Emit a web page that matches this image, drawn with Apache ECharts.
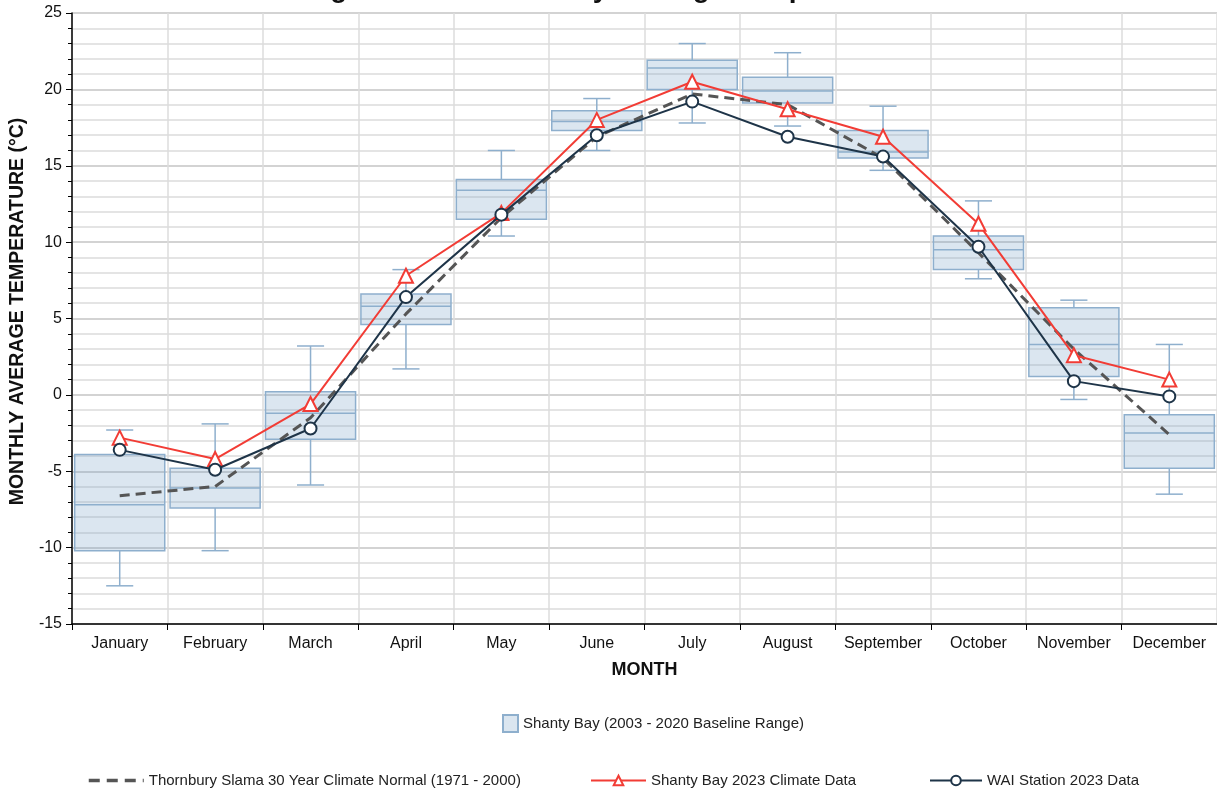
<!DOCTYPE html>
<html>
<head>
<meta charset="utf-8">
<script src="https://cdn.jsdelivr.net/npm/echarts@6/dist/echarts.min.js"></script>
<style>
  html, body { margin: 0; padding: 0; background: #fff; }
  #main { width: 1217px; height: 791px; }
</style>
</head>
<body>
<div id="main"></div>
<script>
// months
var months = ['January', 'February', 'March', 'April', 'May', 'June',
  'July', 'August', 'September', 'October', 'November', 'December'];

// Shanty Bay 2003 - 2020 baseline range (whisker low, Q1, median, Q3, whisker high)
var baseMin = [-12.5, -10.2, -5.9, 1.7, 10.4, 16.0, 17.8, 17.6, 14.7, 7.6, -0.3, -6.5];
var baseQ1 = [-10.2, -7.4, -2.9, 4.6, 11.5, 17.3, 20.0, 19.1, 15.5, 8.2, 1.2, -4.8];
var baseMedian = [-7.2, -6.1, -1.2, 5.8, 13.4, 17.9, 21.4, 19.9, 15.9, 9.5, 3.3, -2.5];
var baseQ3 = [-3.9, -4.8, 0.2, 6.6, 14.1, 18.6, 21.9, 20.8, 17.3, 10.4, 5.7, -1.3];
var baseMax = [-2.3, -1.9, 3.2, 8.2, 16.0, 19.4, 23.0, 22.4, 18.9, 12.7, 6.2, 3.3];

// lines
var normal30 = [-6.6, -6.0, -1.5, 5.3, 11.6, 16.9, 19.7, 19.0, 15.5, 9.3, 3.0, -2.6];
var shanty2023 = [-2.8, -4.2, -0.6, 7.8, 11.9, 18.0, 20.5, 18.7, 16.9, 11.2, 2.6, 1.0];
var wai2023 = [-3.6, -4.9, -2.2, 6.4, 11.8, 17.0, 19.2, 16.9, 15.6, 9.7, 0.9, -0.1];

var nameBox = 'Shanty Bay (2003 - 2020 Baseline Range)';
var nameNormal = 'Thornbury Slama 30 Year Climate Normal (1971 - 2000)';
var nameShanty = 'Shanty Bay 2023 Climate Data';
var nameWai = 'WAI Station 2023 Data';

var font = "'Liberation Sans', Arial, sans-serif";
var boxLine = '#8eafcd';
var boxFill = 'rgba(113,157,196,0.25)';

var boxData = months.map(function (m, i) {
  return [i, baseMin[i], baseQ1[i], baseMedian[i], baseQ3[i], baseMax[i]];
});

function renderBox(params, api) {
  var x = api.value(0);
  var lo = api.coord([x, api.value(1)]);
  var q1 = api.coord([x, api.value(2)]);
  var med = api.coord([x, api.value(3)]);
  var q3 = api.coord([x, api.value(4)]);
  var hi = api.coord([x, api.value(5)]);
  var band = api.size([1, 0])[0];
  var half = band * 0.472;
  var cap = band * 0.142;
  var cx = lo[0];
  var ls = { stroke: boxLine, lineWidth: 1.5, fill: null };
  return {
    type: 'group',
    children: [
      { type: 'line', shape: { x1: cx, y1: q3[1], x2: cx, y2: hi[1] }, style: ls },
      { type: 'line', shape: { x1: cx, y1: q1[1], x2: cx, y2: lo[1] }, style: ls },
      { type: 'line', shape: { x1: cx - cap, y1: hi[1], x2: cx + cap, y2: hi[1] }, style: ls },
      { type: 'line', shape: { x1: cx - cap, y1: lo[1], x2: cx + cap, y2: lo[1] }, style: ls },
      { type: 'rect', shape: { x: cx - half, y: q3[1], width: half * 2, height: q1[1] - q3[1] },
        style: { fill: boxFill, stroke: boxLine, lineWidth: 1.5 } },
      { type: 'line', shape: { x1: cx - half, y1: med[1], x2: cx + half, y2: med[1] }, style: ls }
    ]
  };
}

var myChart = echarts.init(document.getElementById('main'));

var option = {
  backgroundColor: '#fff',
  animation: false,
  textStyle: { fontFamily: font },
  title: {
    text: 'Long-Term 2023 Monthly Average Temperature',
    left: 274,
    top: -30,
    textStyle: { fontSize: 28, fontWeight: 'bold', color: '#111', fontFamily: font }
  },
  legend: [{
    data: [{ name: nameBox, icon: 'rect' }],
    left: 497, top: 709,
    itemWidth: 15, itemHeight: 17,
    textStyle: { fontSize: 15, color: '#222', fontFamily: font }
  }, {
    data: [{ name: nameNormal, itemStyle: { opacity: 0 } }],
    left: 82, top: 768,
    itemWidth: 55, itemHeight: 12,
    lineStyle: { width: 3.5, type: [11, 7] },
    textStyle: { fontSize: 15, color: '#222', fontFamily: font }
  }, {
    data: [nameShanty],
    left: 585, top: 768,
    itemWidth: 55, itemHeight: 12,
    textStyle: { fontSize: 15, color: '#222', fontFamily: font }
  }, {
    data: [nameWai],
    left: 924, top: 768,
    itemWidth: 52, itemHeight: 12,
    textStyle: { fontSize: 15, color: '#222', fontFamily: font }
  }],
  grid: {
    left: 72,
    right: 0,
    top: 13,
    bottom: 167,
    containLabel: false,
    outerBoundsMode: 'none'
  },
  xAxis: {
    type: 'category',
    data: months,
    boundaryGap: true,
    name: 'MONTH',
    nameLocation: 'middle',
    nameGap: 37,
    nameTextStyle: { fontSize: 18, fontWeight: 'bold', color: '#111', fontFamily: font },
    axisLine: { onZero: false, lineStyle: { color: '#000', width: 1.5 } },
    axisTick: { show: true, interval: 0, length: 6, lineStyle: { color: '#000' } },
    axisLabel: { interval: 0, fontSize: 16, color: '#111', margin: 12, fontFamily: font },
    splitLine: { show: true, interval: 0, lineStyle: { color: '#dcdcdc', width: 1.5 } }
  },
  yAxis: {
    type: 'value',
    min: -15,
    max: 25,
    interval: 5,
    name: 'MONTHLY AVERAGE TEMPERATURE (°C)',
    nameLocation: 'middle',
    nameGap: 44,
    nameTextStyle: { fontSize: 19.5, fontWeight: 'bold', color: '#111', fontFamily: font, padding: [0, 0, 0, 14] },
    axisLine: { show: true, lineStyle: { color: '#000', width: 1.5 } },
    axisTick: { show: true, length: 6, lineStyle: { color: '#000' } },
    minorTick: { show: true, splitNumber: 5, length: 4, lineStyle: { color: '#000' } },
    axisLabel: { fontSize: 16, color: '#111', margin: 10, fontFamily: font },
    splitLine: { show: true, lineStyle: { color: '#c4c4c4', width: 1.5 } },
    minorSplitLine: { show: true, lineStyle: { color: '#dcdcdc', width: 1.5 } }
  },
  series: [{
    name: nameBox,
    type: 'custom',
    renderItem: renderBox,
    encode: { x: 0, y: [1, 2, 3, 4, 5] },
    data: boxData,
    itemStyle: { color: boxFill, borderColor: boxLine, borderWidth: 1.5 },
    z: 1
  }, {
    name: nameNormal,
    type: 'line',
    data: normal30,
    showSymbol: false,
    symbol: 'none',
    lineStyle: { color: '#555', width: 3, type: [10, 6] },
    itemStyle: { color: '#555' },
    z: 3
  }, {
    name: nameShanty,
    type: 'line',
    data: shanty2023,
    symbol: 'emptyTriangle',
    symbolSize: 14,
    lineStyle: { color: '#f23c35', width: 2 },
    itemStyle: { color: '#f23c35', borderWidth: 1.5 },
    z: 4
  }, {
    name: nameWai,
    type: 'line',
    data: wai2023,
    symbol: 'emptyCircle',
    symbolSize: 12,
    lineStyle: { color: '#1e3448', width: 2 },
    itemStyle: { color: '#1e3448', borderWidth: 1.5 },
    z: 5
  }]
};

myChart.setOption(option);
window.addEventListener('resize', function () {
  myChart.resize();
});
</script>
</body>
</html>
